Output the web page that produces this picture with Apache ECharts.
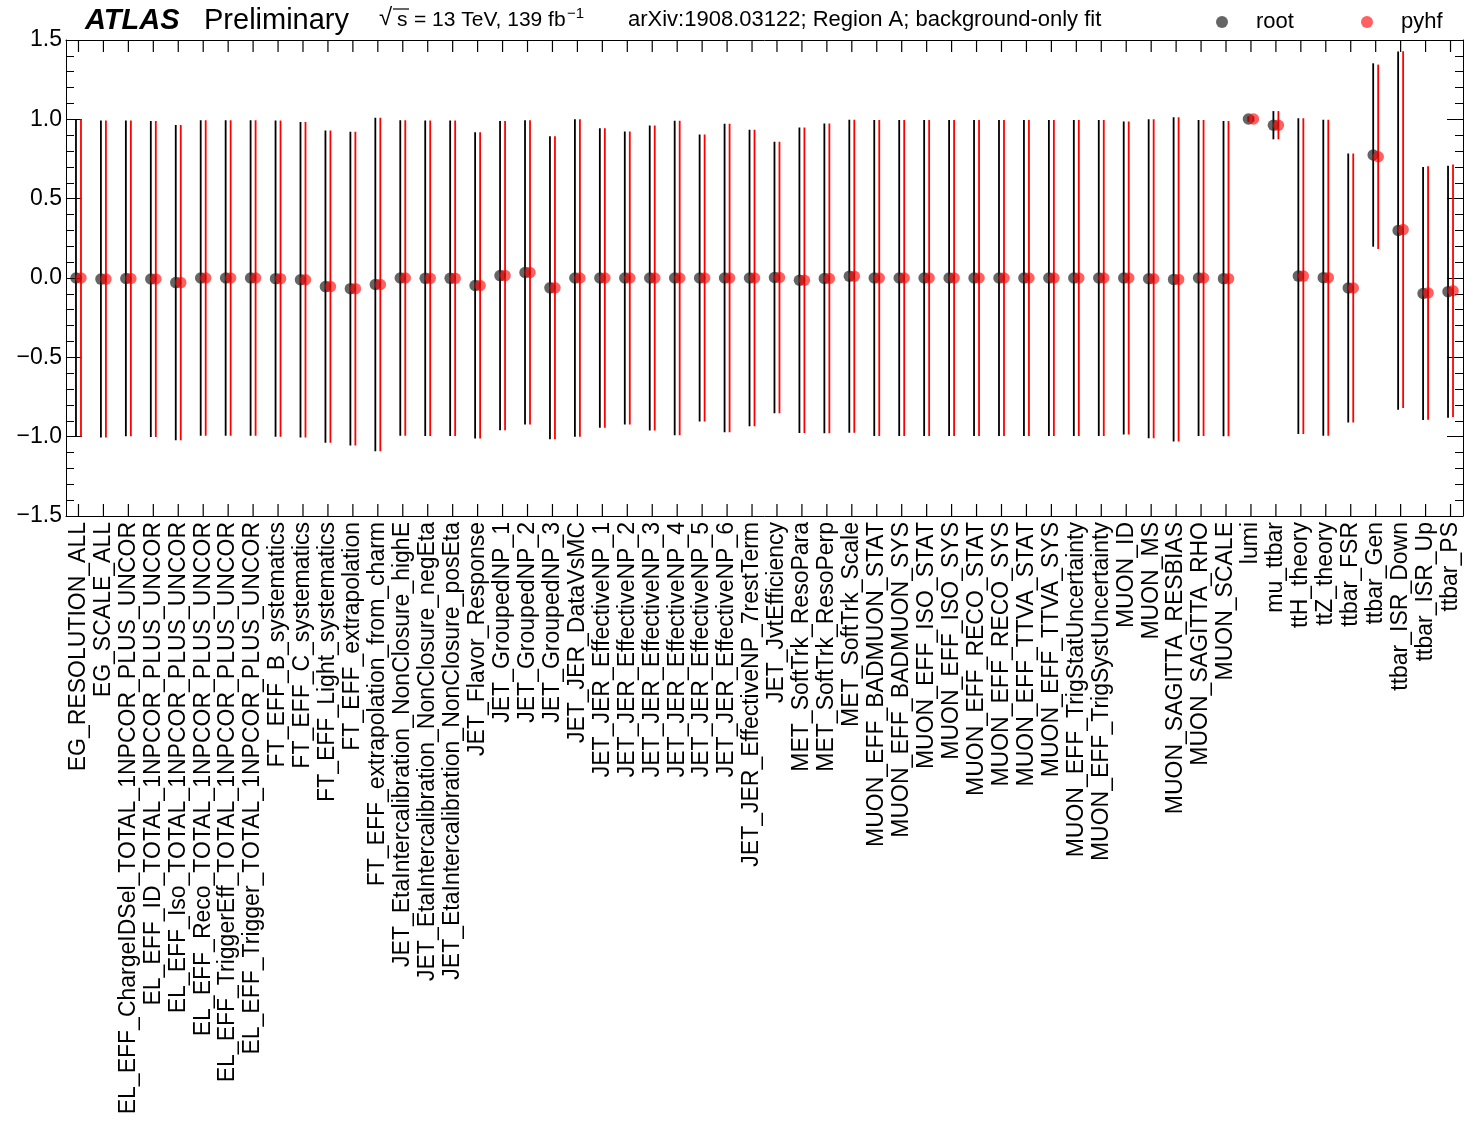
<!DOCTYPE html>
<html>
<head>
<meta charset="utf-8">
<script src="https://cdn.jsdelivr.net/npm/echarts@6/dist/echarts.min.js"></script>
<style>
  html, body { margin: 0; padding: 0; background: #fff; }
  #chart { width: 1464px; height: 1124px; }
</style>
</head>
<body>
<div id="chart"></div>
<script>
// Nuisance-parameter pulls: post-fit value and 1-sigma error for each parameter
const categories = [
  'EG_RESOLUTION_ALL', 'EG_SCALE_ALL',
  'EL_EFF_ChargeIDSel_TOTAL_1NPCOR_PLUS_UNCOR', 'EL_EFF_ID_TOTAL_1NPCOR_PLUS_UNCOR',
  'EL_EFF_Iso_TOTAL_1NPCOR_PLUS_UNCOR', 'EL_EFF_Reco_TOTAL_1NPCOR_PLUS_UNCOR',
  'EL_EFF_TriggerEff_TOTAL_1NPCOR_PLUS_UNCOR', 'EL_EFF_Trigger_TOTAL_1NPCOR_PLUS_UNCOR',
  'FT_EFF_B_systematics', 'FT_EFF_C_systematics', 'FT_EFF_Light_systematics',
  'FT_EFF_extrapolation', 'FT_EFF_extrapolation_from_charm',
  'JET_EtaIntercalibration_NonClosure_highE', 'JET_EtaIntercalibration_NonClosure_negEta',
  'JET_EtaIntercalibration_NonClosure_posEta', 'JET_Flavor_Response',
  'JET_GroupedNP_1', 'JET_GroupedNP_2', 'JET_GroupedNP_3', 'JET_JER_DataVsMC',
  'JET_JER_EffectiveNP_1', 'JET_JER_EffectiveNP_2', 'JET_JER_EffectiveNP_3',
  'JET_JER_EffectiveNP_4', 'JET_JER_EffectiveNP_5', 'JET_JER_EffectiveNP_6',
  'JET_JER_EffectiveNP_7restTerm', 'JET_JvtEfficiency',
  'MET_SoftTrk_ResoPara', 'MET_SoftTrk_ResoPerp', 'MET_SoftTrk_Scale',
  'MUON_EFF_BADMUON_STAT', 'MUON_EFF_BADMUON_SYS', 'MUON_EFF_ISO_STAT', 'MUON_EFF_ISO_SYS',
  'MUON_EFF_RECO_STAT', 'MUON_EFF_RECO_SYS', 'MUON_EFF_TTVA_STAT', 'MUON_EFF_TTVA_SYS',
  'MUON_EFF_TrigStatUncertainty', 'MUON_EFF_TrigSystUncertainty',
  'MUON_ID', 'MUON_MS', 'MUON_SAGITTA_RESBIAS', 'MUON_SAGITTA_RHO', 'MUON_SCALE',
  'lumi', 'mu_ttbar', 'ttH_theory', 'ttZ_theory', 'ttbar_FSR', 'ttbar_Gen',
  'ttbar_ISR_Down', 'ttbar_ISR_Up', 'ttbar_PS'
];

const rootValues = [
  0.000, -0.007, -0.003, -0.006, -0.029, 0.000, 0.000, 0.000,
  -0.004, -0.011, -0.054, -0.067, -0.041,
  0.000, -0.002, -0.002, -0.047,
  0.015, 0.035, -0.062, 0.000,
  0.000, 0.000, 0.000, 0.000, 0.000, 0.000, 0.000, 0.003,
  -0.014, -0.003, 0.011,
  0.000, 0.000, 0.000, 0.000, 0.000, 0.000, 0.000, 0.000, 0.000, 0.000,
  0.000, -0.005, -0.009, 0.000, -0.004,
  1.002, 0.963, 0.012, 0.002, -0.063, 0.775, 0.299, -0.098, -0.086
];
const rootErrors = [
  1.000, 0.999, 0.995, 0.996, 0.994, 0.995, 0.995, 0.995,
  0.996, 0.994, 0.984, 0.989, 1.051,
  0.995, 0.994, 0.994, 0.965,
  0.975, 0.959, 0.955, 1.001,
  0.944, 0.923, 0.961, 0.991, 0.904, 0.972, 0.934, 0.856,
  0.963, 0.976, 0.987,
  0.996, 0.996, 0.996, 0.996, 0.996, 0.996, 0.996, 0.996, 0.996, 0.996,
  0.987, 1.005, 1.022, 0.996, 0.994,
  0.017, 0.089, 0.995, 0.996, 0.847, 0.578, 1.129, 0.797, 0.794
];
const pyhfValues = [
  0.000, -0.007, -0.003, -0.006, -0.029, 0.000, 0.000, 0.000,
  -0.004, -0.011, -0.054, -0.067, -0.041,
  0.000, -0.002, -0.002, -0.047,
  0.015, 0.035, -0.062, 0.000,
  0.000, 0.000, 0.000, 0.000, 0.000, 0.000, 0.000, 0.003,
  -0.014, -0.003, 0.011,
  0.000, 0.000, 0.000, 0.000, 0.000, 0.000, 0.000, 0.000, 0.000, 0.000,
  0.000, -0.005, -0.009, 0.000, -0.004,
  1.002, 0.963, 0.012, 0.002, -0.063, 0.764, 0.305, -0.094, -0.080
];
const pyhfErrors = [
  1.000, 0.999, 0.995, 0.996, 0.994, 0.995, 0.995, 0.995,
  0.996, 0.994, 0.984, 0.989, 1.051,
  0.995, 0.994, 0.994, 0.965,
  0.975, 0.959, 0.955, 1.001,
  0.944, 0.923, 0.961, 0.991, 0.904, 0.972, 0.934, 0.856,
  0.963, 0.976, 0.987,
  0.996, 0.996, 0.996, 0.996, 0.996, 0.996, 0.996, 0.996, 0.996, 0.996,
  0.987, 1.005, 1.022, 0.996, 0.994,
  0.017, 0.089, 0.995, 0.996, 0.847, 0.581, 1.124, 0.799, 0.796
];
const yTicks = { min: -1.5, max: 1.5, step: 0.5 };

const FONT = '"Liberation Sans", Arial, Helvetica, sans-serif';
const ROOT_DOT = 'rgba(30,30,30,0.85)';
const PYHF_DOT = 'rgba(255,0,0,0.78)';
const X_TICK_LEN = 12;

function errorBars(name, values, errors, offset, color, z) {
  return {
    type: 'custom', name: name, z: z, silent: true,
    encode: { x: 0, y: [1, 2] },
    data: values.map((v, i) => [i, v - errors[i], v + errors[i]]),
    renderItem: function (params, api) {
      const lo = api.coord([api.value(0), api.value(1)]);
      const hi = api.coord([api.value(0), api.value(2)]);
      return {
        type: 'line',
        shape: { x1: lo[0] + offset, y1: lo[1], x2: hi[0] + offset, y2: hi[1] },
        style: { stroke: color, lineWidth: 1.8 }
      };
    }
  };
}

function points(name, values, offset, color, z) {
  return {
    type: 'scatter', name: name, z: z, silent: true,
    symbol: 'circle', symbolSize: 11.5, symbolOffset: [offset, 0],
    itemStyle: { color: color },
    data: values.map((v, i) => [i, v])
  };
}

// Inward ticks on the bottom and top frame edges, one per parameter
const frameTicks = {
  type: 'custom', z: 6, silent: true,
  encode: { x: 0, y: [1, 2] },
  data: categories.map((c, i) => [i, yTicks.min, yTicks.max]),
  renderItem: function (params, api) {
    const b = api.coord([api.value(0), api.value(1)]);
    const t = api.coord([api.value(0), api.value(2)]);
    const s = { stroke: '#000', lineWidth: 1.2 };
    return {
      type: 'group',
      children: [
        { type: 'line', shape: { x1: b[0], y1: b[1], x2: b[0], y2: b[1] - X_TICK_LEN }, style: s },
        { type: 'line', shape: { x1: t[0], y1: t[1], x2: t[0], y2: t[1] + X_TICK_LEN }, style: s }
      ]
    };
  }
};

const yLabel = v => {
  if (Math.abs(v) < 1e-9) return '0.0';
  return (v < 0 ? '\u2212' : '') + Math.abs(v).toFixed(1);
};

const axisLineStyle = { color: '#000', width: 1 };

const legendItem = (name, color, left) => ({
  left: left, top: 6, itemWidth: 12, itemHeight: 12, selectedMode: false,
  data: [{ name: name, icon: 'circle', itemStyle: { color: color } }],
  formatter: n => '{g|}{t|' + n + '}',
  textStyle: { rich: { g: { width: 23 }, t: { fontSize: 22, fontFamily: FONT, color: '#000' } } }
});

const option = {
  animation: false,
  backgroundColor: '#fff',
  textStyle: { fontFamily: FONT },
  grid: { left: 66, top: 40, width: 1397, height: 476, containLabel: false },
  legend: [legendItem('root', ROOT_DOT, 1211), legendItem('pyhf', PYHF_DOT, 1356)],
  xAxis: [
    {
      type: 'category', data: categories, position: 'bottom', boundaryGap: true,
      axisLine: { show: true, onZero: false, lineStyle: axisLineStyle },
      axisTick: { show: false },
      axisLabel: { rotate: 90, interval: 0, fontSize: 23, color: '#000', fontFamily: FONT, margin: 6 },
      splitLine: { show: false }
    },
    {
      type: 'category', data: categories, position: 'top', boundaryGap: true,
      axisLine: { show: true, onZero: false, lineStyle: axisLineStyle },
      axisTick: { show: false },
      axisLabel: { show: false },
      splitLine: { show: false }
    }
  ],
  yAxis: [
    {
      type: 'value', position: 'left', min: yTicks.min, max: yTicks.max, interval: yTicks.step,
      axisLine: { show: true, onZero: false, lineStyle: axisLineStyle },
      axisTick: { show: true, inside: true, length: 16, lineStyle: axisLineStyle },
      minorTick: { show: true, splitNumber: 5, length: 8, lineStyle: axisLineStyle },
      axisLabel: { formatter: yLabel, fontSize: 23, color: '#000', fontFamily: FONT, margin: 4 },
      splitLine: { show: false }
    },
    {
      type: 'value', position: 'right', min: yTicks.min, max: yTicks.max, interval: yTicks.step,
      axisLine: { show: true, onZero: false, lineStyle: axisLineStyle },
      axisTick: { show: true, inside: true, length: 16, lineStyle: axisLineStyle },
      minorTick: { show: true, splitNumber: 5, length: 8, lineStyle: axisLineStyle },
      axisLabel: { show: false },
      splitLine: { show: false }
    }
  ],
  series: [
    points('root', rootValues, -2.5, ROOT_DOT, 4),
    points('pyhf', pyhfValues, 2.5, PYHF_DOT, 5),
    errorBars('root', rootValues, rootErrors, -2.5, '#000', 2),
    errorBars('pyhf', pyhfValues, pyhfErrors, 2.5, '#ff0000', 3),
    frameTicks
  ],
  graphic: [
    { type: 'text', left: 85, top: 6, style: { text: 'ATLAS', font: 'italic bold 29px ' + FONT, fill: '#000' } },
    { type: 'text', left: 204, top: 6, style: { text: 'Preliminary', font: '29px ' + FONT, fill: '#000' } },
    { type: 'text', left: 379, top: 6, style: { text: '\u221A', font: '24px ' + FONT, fill: '#000' } },
    { type: 'line', shape: { x1: 393, y1: 9, x2: 409, y2: 9 }, style: { stroke: '#000', lineWidth: 1.2 } },
    { type: 'text', left: 397, top: 10, style: { text: 's', font: '21px ' + FONT, fill: '#000' } },
    { type: 'text', left: 414, top: 10, style: { text: '= 13 TeV, 139 fb', font: '21px ' + FONT, fill: '#000' } },
    { type: 'text', left: 567, top: 6, style: { text: '\u22121', font: '15px ' + FONT, fill: '#000' } },
    { type: 'text', left: 628, top: 9, style: { text: 'arXiv:1908.03122; Region A; background-only fit', font: '22px ' + FONT, fill: '#000' } }
  ]
};

const chart = echarts.init(document.getElementById('chart'), null, { renderer: 'canvas' });
chart.setOption(option);
</script>
</body>
</html>
